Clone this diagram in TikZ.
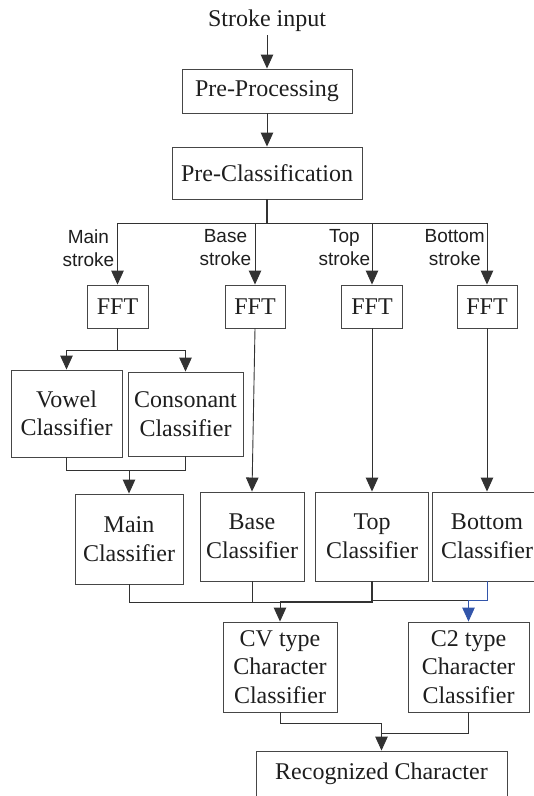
\documentclass[tikz,border=0pt]{standalone}
\usepackage{fontspec}
\setmainfont{Liberation Serif}
\newfontfamily\lsans{Liberation Sans}
\usetikzlibrary{arrows.meta}
\definecolor{ln}{RGB}{50,50,50}
\definecolor{bx}{RGB}{70,70,70}
\definecolor{tx}{RGB}{30,30,30}
\definecolor{bl}{RGB}{50,85,170}
\begin{document}
\begin{tikzpicture}[x=1pt,y=-1pt,
  box/.style={draw=bx, line width=0.9pt, inner sep=0pt, align=center, text=tx,
    font=\fontsize{24}{28.5}\selectfont},
  lab/.style={inner sep=0pt, align=center, text=tx,
    font=\lsans\fontsize{19}{23}\selectfont, anchor=east},
  con/.style={draw=ln, line width=0.9pt},
  arr/.style={con, -{Triangle[length=14pt,width=12.5pt]}},
]
\useasboundingbox (0,0) rectangle (534,796);
\clip (0,0) rectangle (534,796);

% top chain
\node[inner sep=0pt, text=tx, font=\fontsize{24}{28}\selectfont] (in) at (267,21) {Stroke input};
\node[box, minimum width=170, minimum height=44] (pp) at (267,91) {Pre-Processing};
\node[box, minimum width=190, minimum height=52] (pc) at (267,173) {Pre-Classification};
\draw[arr] ([yshift=-3pt]in.south) -- (pp.north);
\draw[arr] (pp.south) -- (pc.north);

% FFT boxes
\node[box, minimum width=61, minimum height=43] (f1) at (117.5,306.5) {FFT};
\node[box, minimum width=60, minimum height=43] (f2) at (255,306.5) {FFT};
\node[box, minimum width=61, minimum height=43] (f3) at (372,306.5) {FFT};
\node[box, minimum width=60, minimum height=43] (f4) at (487,306.5) {FFT};

\coordinate (sp) at (267,223);
\draw[con, line width=1.3pt] (pc.south) -- (sp);
\draw[arr] (sp) -| (f1.north);
\draw[arr] (sp) -| (f2.north);
\draw[arr] (sp) -| (f3.north);
\draw[arr] (sp) -| (f4.north);

% stroke labels
\node[lab] (l1) at (114.5,248) {Main\\stroke};
\node[lab] (l2) at (251.5,248) {Base\\stroke};
\node[lab] (l3) at (370.5,248) {Top\\stroke};
\node[lab] (l4) at (485,248) {Bottom\\stroke};

% vowel / consonant
\node[box, minimum width=111, minimum height=87] (vw) at (66.5,413.5) {Vowel\\Classifier};
\node[box, minimum width=115, minimum height=84] (cs) at (185.5,414) {Consonant\\Classifier};
\coordinate (vs) at (117.5,350);
\draw[con] (f1.south) -- (vs);
\draw[arr] (vs) -| (vw.north);
\draw[arr] (vs) -| (cs.north);

% classifiers
\node[box, minimum width=108, minimum height=90] (mc) at (129,539) {Main\\Classifier};
\node[box, minimum width=104, minimum height=89] (bc) at (252,536.5) {Base\\Classifier};
\node[box, minimum width=113, minimum height=89] (tc) at (372,536.5) {Top\\Classifier};
\node[box, minimum width=110, minimum height=89] (bo) at (487,536.5) {Bottom\\Classifier};

\coordinate (vj) at (129,470);
\draw[con] (vw.south) |- (cs.south |- vj) -- (cs.south);
\draw[arr] (vj) -- (mc.north);
\draw[arr] (f2.south) -- (bc.north);
\draw[arr] (f3.south) -- (tc.north);
\draw[arr] (f4.south) -- (bo.north);

% character classifiers
\node[box, minimum width=114, minimum height=90] (cv) at (280,667) {CV type\\Character\\Classifier};
\node[box, minimum width=121, minimum height=90] (c2) at (468.5,667) {C2 type\\Character\\Classifier};

\coordinate (j) at (280,602);
\coordinate (bj) at (487,600);
\draw[con] (mc.south) |- (j);
\draw[con] (bc.south) -- (bc.south |- j);
\draw[con, line width=1.3pt] (tc.south) |- (j);
\draw[con] (bj) -- (tc.south |- bj);
\draw[arr] (j) -- (cv.north);
\draw[arr, draw=bl] (bo.south) -- (bj) -| (c2.north);

% recognized character
\node[box, minimum width=251, minimum height=46] (rc) at (381.5,774) {Recognized Character};
\coordinate (rj1) at (381.5,723);
\coordinate (rj2) at (381.5,733);
\draw[con] (cv.south) |- (rj1);
\draw[con] (c2.south) |- (rj2);
\draw[arr] (rj1) -- (rc.north);
\end{tikzpicture}
\end{document}
